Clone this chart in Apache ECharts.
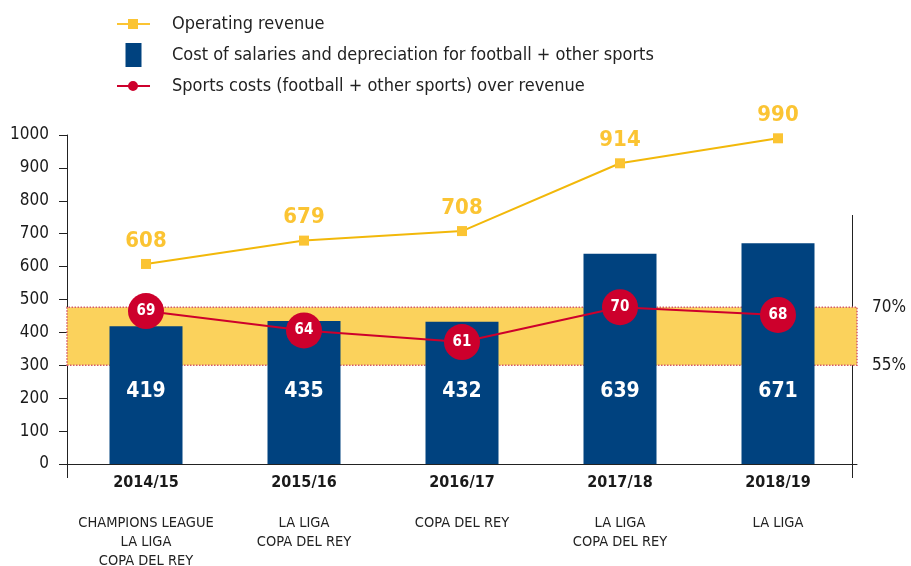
<!DOCTYPE html>
<html>
<head>
<meta charset="utf-8">
<script src="https://cdn.jsdelivr.net/npm/echarts@6/dist/echarts.min.js"></script>
<style>
  html, body { margin: 0; padding: 0; background: #fff; }
  #chart { width: 911px; height: 566px; }
</style>
</head>
<body>
<div id="chart"></div>
<script>
// data
const seasons = ['2014/15', '2015/16', '2016/17', '2017/18', '2018/19'];
const trophies = [
  ['CHAMPIONS LEAGUE', 'LA LIGA', 'COPA DEL REY'],
  ['LA LIGA', 'COPA DEL REY'],
  ['COPA DEL REY'],
  ['LA LIGA', 'COPA DEL REY'],
  ['LA LIGA']
];
const revenue = [608, 679, 708, 914, 990];
const salaryCost = [419, 435, 432, 639, 671];
const costRatio = [69, 64, 61, 70, 68];
const ratioBand = [55, 70];
const leftMax = 1000;
const leftStep = 100;

const FONT = '"Liberation Sans Narrow", "DejaVu Sans Condensed", Roboto, sans-serif';
const BLUE = '#00427f';
const RED = '#cd002c';
const YELLOW = '#f2b80a';
const YELLOW_LABEL = '#fbc433';

const names = [
  'Operating revenue',
  'Cost of salaries and depreciation for football + other sports',
  'Sports costs (football + other sports) over revenue'
];

const chart = echarts.init(document.getElementById('chart'));

chart.setOption({
  animation: false,
  textStyle: { fontFamily: FONT },
  legend: {
    orient: 'vertical',
    left: 112,
    top: 10,
    itemWidth: 33,
    itemHeight: 24,
    itemGap: 10,
    textStyle: { fontSize: 18, color: '#222', fontFamily: FONT, padding: [0, 0, 0, 17] },
    data: [
      { name: names[0], icon: 'path://M0,4H11V0H21V4H33V6H21V10H11V6H0Z' },
      { name: names[1], icon: 'path://M0,0H16V24H0Z' },
      { name: names[2], icon: 'path://M0,4H11.2V6H0Z M20.8,4H33V6H20.8Z M11,5A5,5 0 1,1 21,5A5,5 0 1,1 11,5Z' }
    ]
  },
  grid: { left: 67, right: 54, top: 135, bottom: 102, outerBoundsMode: 'none' },
  xAxis: {
    type: 'category',
    data: seasons,
    axisLine: { lineStyle: { color: '#222', width: 1 } },
    axisTick: { show: false },
    axisLabel: {
      interval: 0,
      margin: 9,
      formatter: (v, i) => ['{y|' + v + '}', '{g| }']
        .concat(trophies[i].map(t => '{s|' + t + '}')).join('\n'),
      rich: {
        y: { fontSize: 16, fontWeight: 'bold', color: '#1a1a1a', lineHeight: 20, fontFamily: FONT },
        g: { fontSize: 10, lineHeight: 21 },
        s: { fontSize: 14.5, color: '#222', lineHeight: 19, fontFamily: FONT }
      }
    }
  },
  yAxis: [
    {
      type: 'value',
      min: 0,
      max: leftMax,
      interval: leftStep,
      axisLine: { show: true, lineStyle: { color: '#222' } },
      axisTick: { show: true, length: 8, lineStyle: { color: '#222' } },
      splitLine: { show: false },
      axisLabel: { fontSize: 17, color: '#1a1a1a', margin: 18, fontFamily: FONT, formatter: v => String(v) }
    },
    {
      type: 'value',
      min: 29.5,
      max: 114.5,
      interval: 0.5,
      position: 'right',
      axisLine: { show: false },
      axisTick: { show: false },
      splitLine: { show: false },
      axisLabel: {
        fontSize: 17, color: '#1a1a1a', margin: 15, fontFamily: FONT,
        formatter: v => ratioBand.indexOf(v) >= 0 ? v + '%' : ''
      }
    }
  ],
  graphic: [
    {
      type: 'line',
      shape: { x1: 852.5, y1: 215, x2: 852.5, y2: 478 },
      style: { stroke: '#222', lineWidth: 1 }
    },
    {
      type: 'line',
      shape: { x1: 67.5, y1: 464, x2: 67.5, y2: 478 },
      style: { stroke: '#222', lineWidth: 1 }
    }
  ],
  series: [
    {
      name: names[1],
      type: 'bar',
      data: salaryCost,
      barWidth: 73,
      z: 2,
      itemStyle: { color: BLUE },
      label: {
        show: true,
        position: 'insideBottom',
        distance: 62,
        color: '#fff',
        fontSize: 21,
        fontWeight: 'bold',
        fontFamily: FONT
      }
    },
    {
      name: names[0],
      type: 'line',
      data: revenue,
      z: 4,
      symbol: 'rect',
      symbolSize: 10,
      itemStyle: { color: YELLOW_LABEL },
      lineStyle: { color: YELLOW, width: 2 },
      label: {
        show: true,
        position: 'top',
        distance: 7,
        color: YELLOW_LABEL,
        fontSize: 22,
        fontWeight: 'bold',
        fontFamily: FONT
      }
    },
    {
      name: names[2],
      type: 'line',
      yAxisIndex: 1,
      data: costRatio,
      z: 5,
      symbol: 'circle',
      symbolSize: 36,
      itemStyle: { color: RED },
      lineStyle: { color: RED, width: 2 },
      label: {
        show: true,
        position: 'inside',
        color: '#fff',
        fontSize: 15,
        fontWeight: 'bold',
        fontFamily: FONT
      },
      markArea: {
        silent: true,
        itemStyle: {
          color: '#fbd25c',
          borderColor: '#d45a6a',
          borderWidth: 1.5,
          borderType: 'dotted'
        },
        data: [[{ yAxis: ratioBand[0] }, { yAxis: ratioBand[1] }]]
      }
    }
  ]
});
</script>
</body>
</html>
